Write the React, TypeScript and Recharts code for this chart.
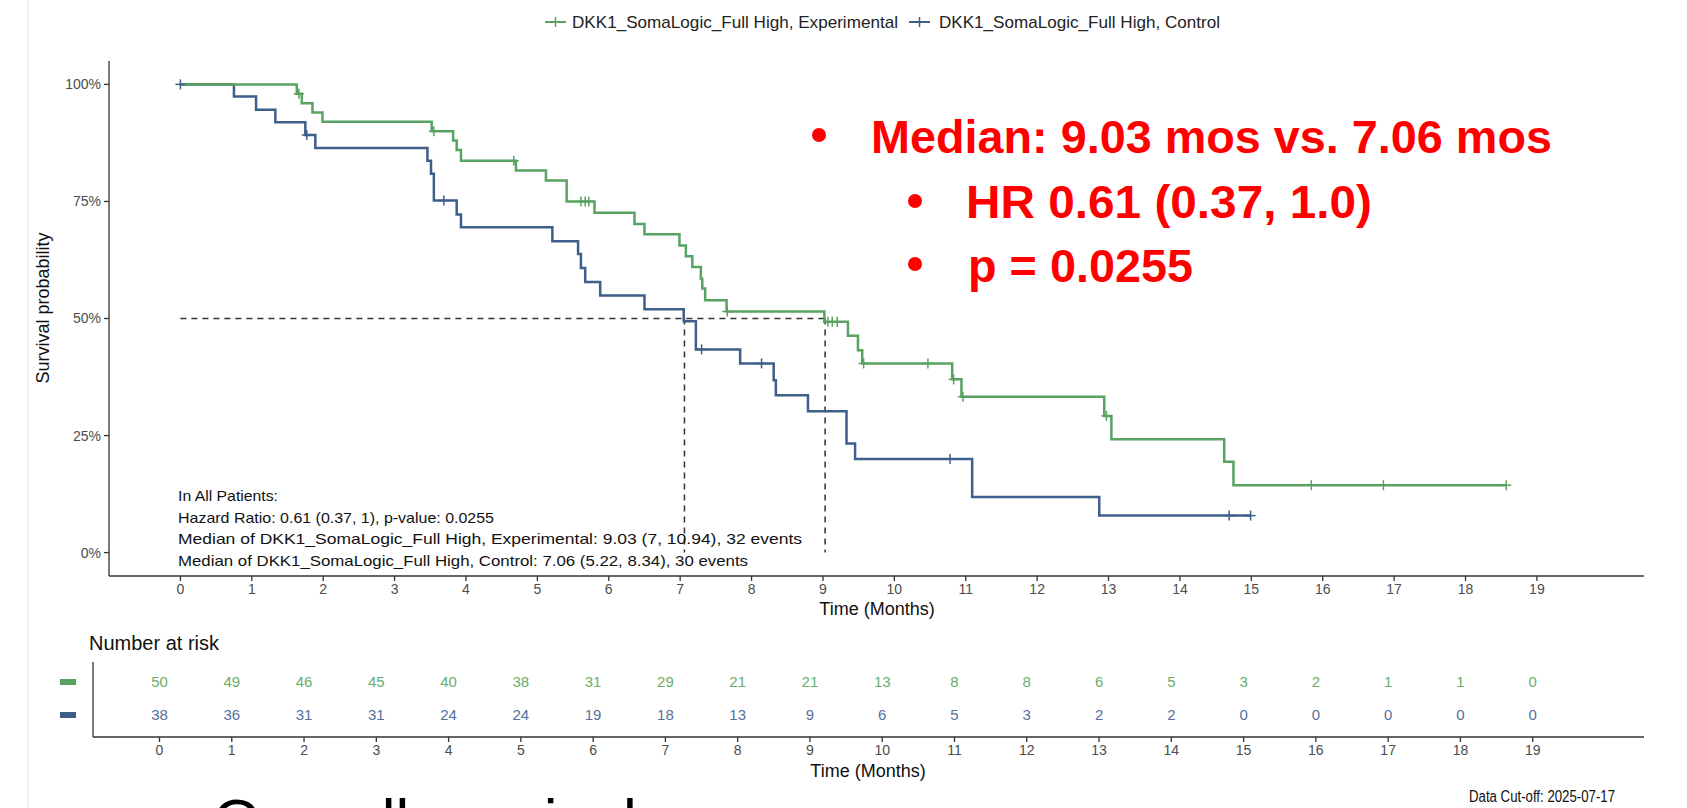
import React from 'react';
import { ComposedChart, Line, Scatter, XAxis, YAxis, ReferenceLine } from 'recharts';

const FONT = '"Liberation Sans", Arial, sans-serif';
const GREEN = '#58A262';
const BLUE = '#3E5E8B';
const GREEN_TXT = '#6AAE6D';
const BLUE_TXT = '#53729C';

// Kaplan-Meier steps (months, survival after the step)
const expTimes = [0, 1.63, 1.7, 1.85, 1.99, 3.52, 3.82, 3.87, 3.93, 4.7, 5.12, 5.41, 5.8, 6.36, 6.5, 6.99, 7.08, 7.17, 7.29, 7.31, 7.35, 7.65, 9.02, 9.35, 9.49, 9.55, 10.81, 10.94, 12.94, 13.04, 14.62, 14.75];
const expSurv = [1, 0.98, 0.96, 0.94, 0.92, 0.9, 0.88, 0.86, 0.837, 0.816, 0.795, 0.75, 0.726, 0.702, 0.68, 0.656, 0.633, 0.61, 0.585, 0.564, 0.539, 0.515, 0.493, 0.463, 0.432, 0.404, 0.37, 0.333, 0.292, 0.242, 0.194, 0.144];
const expCensored = [1.66, 3.55, 4.67, 5.61, 5.67, 5.72, 7.66, 9.07, 9.13, 9.2, 9.57, 10.47, 10.83, 10.96, 12.97, 15.84, 16.85, 18.57];

const ctlTimes = [0, 0.75, 1.06, 1.33, 1.75, 1.89, 3.46, 3.51, 3.55, 3.87, 3.93, 5.21, 5.57, 5.61, 5.67, 5.88, 6.5, 7.05, 7.22, 7.84, 8.31, 8.34, 8.79, 9.33, 9.45, 11.09, 12.87];
const ctlSurv = [1, 0.974, 0.946, 0.919, 0.892, 0.864, 0.837, 0.809, 0.752, 0.722, 0.695, 0.665, 0.638, 0.608, 0.578, 0.549, 0.52, 0.494, 0.434, 0.404, 0.368, 0.336, 0.302, 0.233, 0.2, 0.119, 0.079];
const ctlCensored = [0, 1.77, 3.69, 7.3, 8.14, 10.78, 14.69, 14.99];

const medianExp = 9.03;
const medianCtl = 7.06;

const xTicks = [0, 1, 2, 3, 4, 5, 6, 7, 8, 9, 10, 11, 12, 13, 14, 15, 16, 17, 18, 19];
const yTicks = [0, 0.25, 0.5, 0.75, 1];

// number at risk
const riskTimes = [0, 1, 2, 3, 4, 5, 6, 7, 8, 9, 10, 11, 12, 13, 14, 15, 16, 17, 18, 19];
const expAtRisk = [50, 49, 46, 45, 40, 38, 31, 29, 21, 21, 13, 8, 8, 6, 5, 3, 2, 1, 1, 0];
const ctlAtRisk = [38, 36, 31, 31, 24, 24, 19, 18, 13, 9, 6, 5, 3, 2, 2, 0, 0, 0, 0, 0];
const arms = ['Control', 'Experimental'];

const survAt = (times: number[], surv: number[], t: number) => {
  let s = surv[0];
  times.forEach((x, i) => {
    if (x <= t) s = surv[i];
  });
  return s;
};

const buildSeries = (times: number[], surv: number[], cens: number[]) =>
  [
    ...times.map((t, i) => ({ t, s: surv[i], c: false })),
    ...cens.map((t) => ({ t, s: survAt(times, surv, t), c: true })),
  ].sort((a, b) => a.t - b.t || Number(a.c) - Number(b.c));

const expData = buildSeries(expTimes, expSurv, expCensored);
const ctlData = buildSeries(ctlTimes, ctlSurv, ctlCensored);

const expRows = riskTimes.map((t, i) => ({ t, arm: 'Experimental', n: expAtRisk[i] }));
const ctlRows = riskTimes.map((t, i) => ({ t, arm: 'Control', n: ctlAtRisk[i] }));

const censorDot = (color: string) => (props: any) => {
  const { cx, cy, payload, index } = props;
  if (!payload || !payload.c) return <g key={`d${index}`} />;
  return (
    <g key={`d${index}`}>
      <line x1={cx - 5} x2={cx + 5} y1={cy} y2={cy} stroke={color} strokeWidth={1.5} />
      <line x1={cx} x2={cx} y1={cy - 5} y2={cy + 5} stroke={color} strokeWidth={1.5} />
    </g>
  );
};

const riskLabel = (color: string) => (props: any) => (
  <text x={props.cx} y={props.cy} dy="0.35em" textAnchor="middle" fontSize={15} fill={color} fontFamily={FONT}>
    {props.payload.n}
  </text>
);

const RiskKey = (props: any) => {
  const { y, payload } = props;
  const color = payload.value === 'Experimental' ? GREEN : BLUE;
  return <rect x={60} y={y - 3} width={16} height={6} fill={color} />;
};

const tickStyle = { fontSize: 14, fill: '#4d4d4d', fontFamily: FONT };

const App = () => {
  return (
    <div style={{ position: 'absolute', left: 0, top: 0, width: 1687, height: 808, overflow: 'hidden', background: '#fff' }}>
      <div style={{ position: 'absolute', left: 0, top: 0 }}>
        <ComposedChart width={1687} height={640} margin={{ top: 61, right: 43, bottom: 34, left: 49 }}>
          <XAxis
            type="number"
            dataKey="t"
            domain={[-1, 20.5]}
            ticks={xTicks}
            interval={0}
            allowDataOverflow
            height={30}
            stroke="#333"
            strokeWidth={1.3}
            tickSize={5}
            tickMargin={3}
            tick={tickStyle}
          />
          <YAxis
            type="number"
            domain={[-0.05, 1.05]}
            ticks={yTicks}
            interval={0}
            allowDataOverflow
            width={60}
            stroke="#333"
            strokeWidth={1.3}
            tickSize={5}
            tickMargin={3}
            tick={tickStyle}
            tickFormatter={(v: number) => `${Math.round(v * 100)}%`}
          />
          <ReferenceLine segment={[{ x: 0, y: 0.5 }, { x: medianExp, y: 0.5 }]} stroke="#333" strokeDasharray="6 5" strokeWidth={1.5} />
          <ReferenceLine segment={[{ x: medianCtl, y: 0.5 }, { x: medianCtl, y: 0 }]} stroke="#333" strokeDasharray="6 5" strokeWidth={1.5} />
          <ReferenceLine segment={[{ x: medianExp, y: 0.5 }, { x: medianExp, y: 0 }]} stroke="#333" strokeDasharray="6 5" strokeWidth={1.5} />
          <Line
            data={ctlData}
            dataKey="s"
            type="stepAfter"
            stroke={BLUE}
            strokeWidth={2.5}
            dot={censorDot(BLUE)}
            activeDot={false}
            isAnimationActive={false}
          />
          <Line
            data={expData}
            dataKey="s"
            type="stepAfter"
            stroke={GREEN}
            strokeWidth={2.5}
            dot={censorDot(GREEN)}
            activeDot={false}
            isAnimationActive={false}
          />
        </ComposedChart>
      </div>

      <div style={{ position: 'absolute', left: 0, top: 620 }}>
        <ComposedChart width={1687} height={188} margin={{ top: 42, right: 43, bottom: 41, left: 33 }}>
          <XAxis
            type="number"
            dataKey="t"
            domain={[-0.92, 20.54]}
            ticks={riskTimes}
            interval={0}
            allowDataOverflow
            height={30}
            stroke="#333"
            strokeWidth={1.3}
            tickSize={5}
            tickMargin={3}
            tick={tickStyle}
          />
          <YAxis
            type="category"
            dataKey="arm"
            domain={arms}
            allowDuplicatedCategory={false}
            padding={{ top: 20, bottom: 22 }}
            width={60}
            stroke="#333"
            strokeWidth={1.3}
            tickLine={false}
            tick={<RiskKey />}
          />
          <Scatter data={ctlRows} shape={riskLabel(BLUE_TXT)} isAnimationActive={false} />
          <Scatter data={expRows} shape={riskLabel(GREEN_TXT)} isAnimationActive={false} />
        </ComposedChart>
      </div>

      <svg width={1687} height={808} style={{ position: 'absolute', left: 0, top: 0, pointerEvents: 'none' }} fontFamily={FONT}>
        <line x1={28} x2={28} y1={0} y2={808} stroke="#e6e6e6" strokeWidth={1} />

        {/* legend */}
        <line x1={545} x2={566} y1={22} y2={22} stroke={GREEN} strokeWidth={2} />
        <line x1={555.5} x2={555.5} y1={17} y2={27} stroke={GREEN} strokeWidth={1.5} />
        <text x={572} y={28} fontSize={17} fill="#222" textLength={326} lengthAdjust="spacingAndGlyphs">DKK1_SomaLogic_Full High, Experimental</text>
        <line x1={909} x2={930} y1={22} y2={22} stroke={BLUE} strokeWidth={2} />
        <line x1={919.5} x2={919.5} y1={17} y2={27} stroke={BLUE} strokeWidth={1.5} />
        <text x={939} y={28} fontSize={17} fill="#222" textLength={281} lengthAdjust="spacingAndGlyphs">DKK1_SomaLogic_Full High, Control</text>

        {/* axis titles */}
        <text x={49} y={308} fontSize={18} fill="#111" textAnchor="middle" transform="rotate(-90 49 308)">Survival probability</text>
        <text x={877} y={615} fontSize={18} fill="#111" textAnchor="middle">Time (Months)</text>

        {/* statistics */}
        <text x={178} y={501} fontSize={15} fill="#111" textLength={100} lengthAdjust="spacingAndGlyphs">In All Patients:</text>
        <text x={178} y={522.5} fontSize={15} fill="#111" textLength={316} lengthAdjust="spacingAndGlyphs">Hazard Ratio: 0.61 (0.37, 1), p-value: 0.0255</text>
        <text x={178} y={544} fontSize={15} fill="#111" textLength={624} lengthAdjust="spacingAndGlyphs">Median of DKK1_SomaLogic_Full High, Experimental: 9.03 (7, 10.94), 32 events</text>
        <text x={178} y={565.5} fontSize={15} fill="#111" textLength={570} lengthAdjust="spacingAndGlyphs">Median of DKK1_SomaLogic_Full High, Control: 7.06 (5.22, 8.34), 30 events</text>

        {/* red call-outs */}
        <circle cx={819} cy={135} r={7} fill="#FF0000" />
        <text x={871} y={153} fontSize={47} fontWeight="bold" fill="#FF0000" textLength={681} lengthAdjust="spacingAndGlyphs">Median: 9.03 mos vs. 7.06 mos</text>
        <circle cx={915} cy={201} r={7} fill="#FF0000" />
        <text x={966} y={218} fontSize={47} fontWeight="bold" fill="#FF0000" textLength={406} lengthAdjust="spacingAndGlyphs">HR 0.61 (0.37, 1.0)</text>
        <circle cx={915} cy={264} r={7} fill="#FF0000" />
        <text x={968} y={282} fontSize={47} fontWeight="bold" fill="#FF0000" textLength={225} lengthAdjust="spacingAndGlyphs">p = 0.0255</text>

        {/* risk table titles */}
        <text x={89} y={650} fontSize={20} fill="#111">Number at risk</text>
        <text x={868} y={777} fontSize={18} fill="#111" textAnchor="middle">Time (Months)</text>
        <text x={1615} y={802} fontSize={16} fill="#111" textAnchor="end" textLength={146} lengthAdjust="spacingAndGlyphs">Data Cut-off: 2025-07-17</text>

        {/* slide title, cut by the frame */}
        <text x={213} y={842} fontSize={62} fill="#000">Overall survival</text>
      </svg>
    </div>
  );
};

export default App;
